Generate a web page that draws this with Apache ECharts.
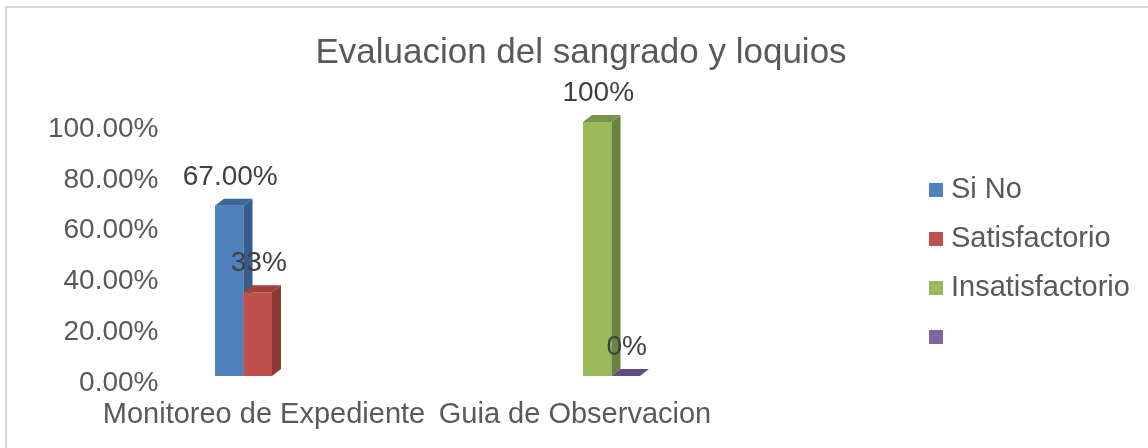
<!DOCTYPE html>
<html>
<head>
<meta charset="utf-8">
<script src="https://cdn.jsdelivr.net/npm/echarts@6/dist/echarts.min.js"></script>
<style>
  html, body { margin: 0; padding: 0; background: #fff; }
  #chart { width: 1148px; height: 448px; }
</style>
</head>
<body>
<div id="chart"></div>
<script>
// data
const categories = ['Monitoreo de Expediente', 'Guia de Observacion']
const seriesNames = ['Si No', 'Satisfactorio', 'Insatisfactorio', ' ']
const siNo = [0.67, null]
const satisfactorio = [0.33, null]
const insatisfactorio = [null, 1.0]
const blank = [null, 0]
const siNoLabels = ['67.00%', '']
const satisfactorioLabels = ['33%', '']
const insatisfactorioLabels = ['', '100%']
const blankLabels = ['', '0%']

const values = [siNo, satisfactorio, insatisfactorio, blank]
const labels = [siNoLabels, satisfactorioLabels, insatisfactorioLabels, blankLabels]

// front / side / top colours for the 3d look
const colors = [
  { front: '#4f81bd', side: '#385d8a', top: '#3d679a' },
  { front: '#c0504d', side: '#8c3836', top: '#a0403d' },
  { front: '#9bbb59', side: '#6b833e', top: '#7a9548' },
  { front: '#8064a2', side: '#5c4878', top: '#614b83' }
]

const DX = 9
const DY = 7

const renderBar = (params, api) => {
  const v = api.value(1)
  if (v == null || isNaN(v)) return
  const cat = api.value(0)
  const base = api.coord([cat, 0])
  const top = api.coord([cat, v])
  const band = api.size([1, 0])[0]
  const bw = band * 0.0916
  const i = params.seriesIndex
  const x0 = base[0] - 2 * bw + i * bw
  const x1 = x0 + bw
  const c = colors[i]
  const txt = labels[i][cat]
  return {
    type: 'group',
    children: [
      {
        type: 'rect',
        shape: { x: x0, y: top[1], width: bw, height: base[1] - top[1] },
        style: { fill: c.front }
      },
      {
        type: 'polygon',
        shape: { points: [[x1, top[1]], [x1 + DX, top[1] - DY], [x1 + DX, base[1] - DY], [x1, base[1]]] },
        style: { fill: c.side }
      },
      {
        type: 'polygon',
        shape: { points: [[x0, top[1]], [x0 + DX, top[1] - DY], [x1 + DX, top[1] - DY], [x1, top[1]]] },
        style: { fill: c.top }
      },
      {
        type: 'text',
        z2: 10,
        style: {
          text: txt,
          x: x0 + bw / 2 + 1,
          y: top[1] - 29,
          align: 'center',
          verticalAlign: 'middle',
          fill: '#404040',
          font: '28px "Liberation Sans", Arial, sans-serif'
        }
      }
    ]
  }
}

const chart = echarts.init(document.getElementById('chart'))

const option = {
  backgroundColor: '#fff',
  animation: false,
  textStyle: { fontFamily: '"Liberation Sans", Arial, sans-serif' },
  title: {
    text: 'Evaluacion del sangrado y loquios',
    left: 576,
    textAlign: 'center',
    top: 31,
    textStyle: { fontSize: 35, fontWeight: 'normal', color: '#595959' }
  },
  graphic: [{
    type: 'rect',
    shape: { x: 6, y: 7, width: 1300, height: 600 },
    style: { fill: null, stroke: '#d9d9d9', lineWidth: 2 },
    silent: true
  }],
  legend: {
    orient: 'vertical',
    left: 924,
    top: 168,
    icon: 'rect',
    itemWidth: 14,
    itemHeight: 14,
    itemGap: 15,
    data: seriesNames,
    textStyle: { fontSize: 29, lineHeight: 34, color: '#595959', padding: [0, 0, 0, 3] }
  },
  grid: { left: 116.5, width: 622, top: 122, bottom: 72 },
  xAxis: {
    type: 'category',
    data: categories,
    axisLine: { show: false },
    axisTick: { show: false },
    axisLabel: { interval: 0, fontSize: 29, color: '#595959', margin: 24, padding: [0, 16, 0, 0] }
  },
  yAxis: {
    type: 'value',
    min: 0,
    max: 1,
    interval: 0.2,
    offset: -48,
    splitLine: { show: false },
    axisLine: { show: false },
    axisTick: { show: false },
    axisLabel: {
      color: '#595959',
      margin: 6,
      formatter: v => '{a|' + (v * 100).toFixed(2) + '%}',
      rich: { a: { fontSize: 28, color: '#595959', padding: [14, 0, 0, 0] } }
    }
  },
  series: seriesNames.map((name, i) => ({
    name,
    type: 'custom',
    renderItem: renderBar,
    itemStyle: { color: colors[i].front },
    encode: { x: 0, y: 1 },
    data: values[i].map((v, k) => (v == null ? null : [k, v])).filter(d => d)
  }))
}

chart.setOption(option)
window.addEventListener('resize', () => chart.resize())
</script>
</body>
</html>
